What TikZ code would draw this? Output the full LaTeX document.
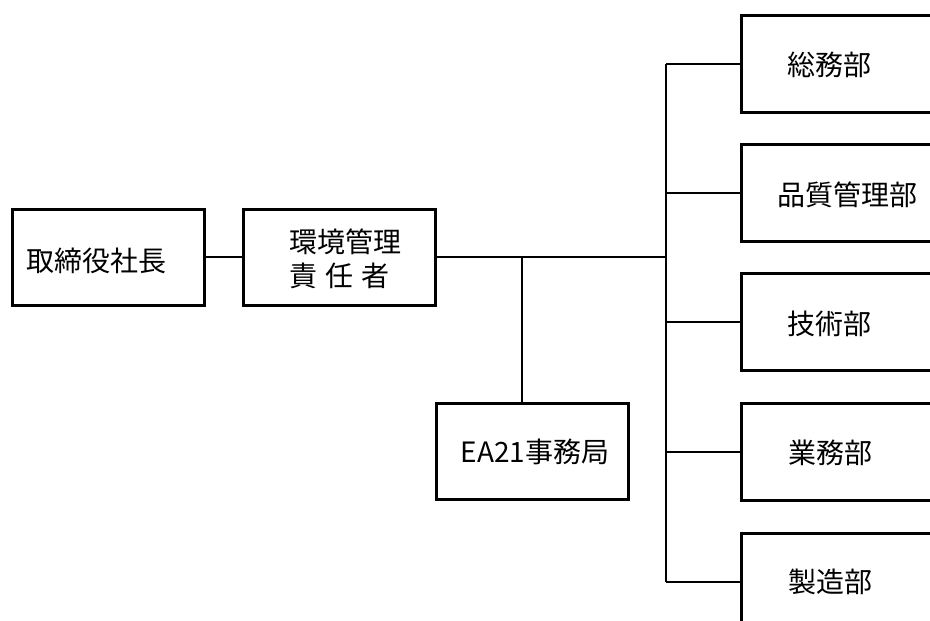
\documentclass[tikz,border=0pt]{standalone}
\usepackage{fontspec}
\setmainfont{Noto Sans CJK JP}
\begin{document}
\begin{tikzpicture}[x=1pt,y=-1pt,
  box/.style={draw, line width=3pt, rectangle, inner sep=0pt, minimum width=192pt, minimum height=96pt},
  rbox/.style={draw, line width=3pt, rectangle, inner sep=0pt, minimum width=240pt, minimum height=97pt},
  conn/.style={line width=2pt},
  lbl/.style={font=\fontsize{28}{34}\selectfont, inner sep=0pt, anchor=center}]
\useasboundingbox (0,0) rectangle (930,621);
\clip (0,0) rectangle (930,621);
% left boxes
\node[box] (b1) at (108,257) {};
\node[lbl] (t1) at (97,261) {取締役社長};
\node[box] (b2) at (339,257) {};
\node[lbl, align=left] (t2) at (345,259) {環境管理\\責\hspace{0.3em}任\hspace{0.3em}者};
\node[box] (ea) at (532,451) {};
\node[lbl] (tea) at (535,452) {EA21事務局};
% right boxes
\node[rbox] (r1) at (861,63.5) {};
\node[rbox] (r2) at (861,192.5) {};
\node[rbox] (r3) at (861,321.5) {};
\node[rbox] (r4) at (861,451.5) {};
\node[rbox] (r5) at (861,581.5) {};
\node[lbl] (tr1) at (829,65) {総務部};
\node[lbl] (tr2) at (847,195) {品質管理部};
\node[lbl] (tr3) at (829,324) {技術部};
\node[lbl] (tr4) at (830,453) {業務部};
\node[lbl] (tr5) at (830,582) {製造部};
% connectors
\coordinate (j) at (666,257);
\coordinate (k) at (522,257);
\draw[conn] (b1.east) -- (b2.west);
\draw[conn] (b2.east) -- (j);
\draw[conn] (k) -- (k |- ea.north);
\draw[conn] (r1.west -| j) -- (r5.west -| j);
\foreach \r in {r1,r2,r3,r4,r5}{
  \draw[conn] (\r.west -| j) -- (\r.west);
}
\end{tikzpicture}
\end{document}
